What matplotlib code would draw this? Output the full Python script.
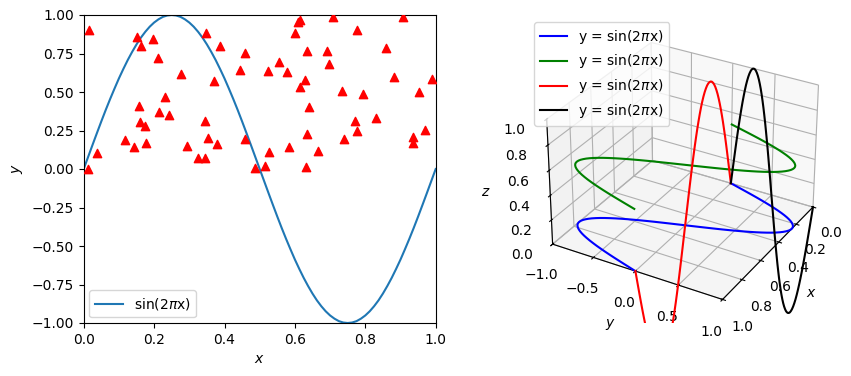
import matplotlib
matplotlib.use("Agg")
import matplotlib.pyplot as plt

curve_x = [0.0000, 0.0125, 0.0250, 0.0375, 0.0500, 0.0625, 0.0750, 0.0875, 0.1000, 0.1125,
           0.1250, 0.1375, 0.1500, 0.1625, 0.1750, 0.1875, 0.2000, 0.2125, 0.2250, 0.2375,
           0.2500, 0.2625, 0.2750, 0.2875, 0.3000, 0.3125, 0.3250, 0.3375, 0.3500, 0.3625,
           0.3750, 0.3875, 0.4000, 0.4125, 0.4250, 0.4375, 0.4500, 0.4625, 0.4750, 0.4875,
           0.5000, 0.5125, 0.5250, 0.5375, 0.5500, 0.5625, 0.5750, 0.5875, 0.6000, 0.6125,
           0.6250, 0.6375, 0.6500, 0.6625, 0.6750, 0.6875, 0.7000, 0.7125, 0.7250, 0.7375,
           0.7500, 0.7625, 0.7750, 0.7875, 0.8000, 0.8125, 0.8250, 0.8375, 0.8500, 0.8625,
           0.8750, 0.8875, 0.9000, 0.9125, 0.9250, 0.9375, 0.9500, 0.9625, 0.9750, 0.9875,
           1.0000]
curve_y = [0.000, 0.078, 0.156, 0.233, 0.309, 0.383, 0.454, 0.522, 0.588, 0.649,
           0.707, 0.760, 0.809, 0.853, 0.891, 0.924, 0.951, 0.972, 0.988, 0.997,
           1.000, 0.997, 0.988, 0.972, 0.951, 0.924, 0.891, 0.853, 0.809, 0.760,
           0.707, 0.649, 0.588, 0.522, 0.454, 0.383, 0.309, 0.233, 0.156, 0.078,
           0.000, -0.078, -0.156, -0.233, -0.309, -0.383, -0.454, -0.522, -0.588, -0.649,
           -0.707, -0.760, -0.809, -0.853, -0.891, -0.924, -0.951, -0.972, -0.988, -0.997,
           -1.000, -0.997, -0.988, -0.972, -0.951, -0.924, -0.891, -0.853, -0.809, -0.760,
           -0.707, -0.649, -0.588, -0.522, -0.454, -0.383, -0.309, -0.233, -0.156, -0.078,
           0.000]

scatter_x = [.0156, .0131, .0385, .1523, .1638, .1976, .2120, .2771, .3711, .4452, .4591,
             .3885, .3477, .2319, .1578, .2145, .2433, .1598, .1747, .3447, .1180, .1439,
             .1777, .3537, .3795, .2930, .3249, .3457, .4581, .4879, .5158, .5277, .5844,
             .6321, .6669, .6351, .7405, .7773, .7713, .8310, .6410, .7345, .7942, .6152,
             .6301, .5247, .5555, .5784, .6351, .6918, .6977, .6013, .6142, .6102, .7077,
             .7773, .8598, .9085, .8827, .9533, .9881, .9702, .9364, .9364]
scatter_y = [.903, .000, .104, .857, .801, .846, .723, .617, .574, .645, .753, .801, .883,
             .467, .409, .372, .351, .307, .281, .312, .188, .143, .169, .203, .162, .149,
             .071, .074, .193, .009, .022, .112, .145, .015, .119, .229, .197, .249, .314,
             .333, .403, .509, .489, .535, .580, .638, .697, .632, .768, .768, .682, .883,
             .965, .952, .989, .905, .788, .989, .595, .502, .586, .253, .210, .169]

W, H = 851, 376
fig = plt.figure(figsize=(W / 100, H / 100), dpi=100)

ax = fig.add_axes([83.7 / W, (H - 323) / H, 352 / W, 308 / H])
ax.plot(curve_x, curve_y, label=r"sin(2$\pi$x)")
ax.scatter(scatter_x, scatter_y, c="r", marker="^", zorder=3)
ax.set_xlim(0, 1)
ax.set_ylim(-1, 1)
ax.set_xlabel("$x$")
ax.set_ylabel("$y$", labelpad=5)
ax.legend(loc="lower left", borderaxespad=0.4)

ax3 = fig.add_axes([505 / W, (H - 323) / H, 352 / W, 308 / H], projection="3d")
label = r"y = sin(2$\pi$x)"
ax3.plot(curve_x, curve_y, zs=0, zdir="z", color="b", label=label)
ax3.plot(curve_x, curve_y, zs=0.5, zdir="z", color="g", label=label)
ax3.plot(curve_x, curve_y, zs=0, zdir="y", color="r", label=label)
ax3.plot(curve_x, curve_y, zs=0, zdir="x", color="k", label=label)
ax3.set_xlim(0, 1)
ax3.set_ylim(-1, 1)
ax3.set_zlim(0, 1)
ax3.set_xlabel("$x$", labelpad=7)
ax3.set_ylabel("$y$", labelpad=7)
ax3.set_zlabel("$z$", labelpad=5.5)
ax3.tick_params(pad=5)
ax3.view_init(elev=30, azim=30)
ax3.set_box_aspect((4, 4, 2.93), zoom=0.977)
ax3.legend(loc="upper left", bbox_to_anchor=(0.0, 1.0), borderaxespad=0.5)

fig.savefig("out.png", dpi=100)
